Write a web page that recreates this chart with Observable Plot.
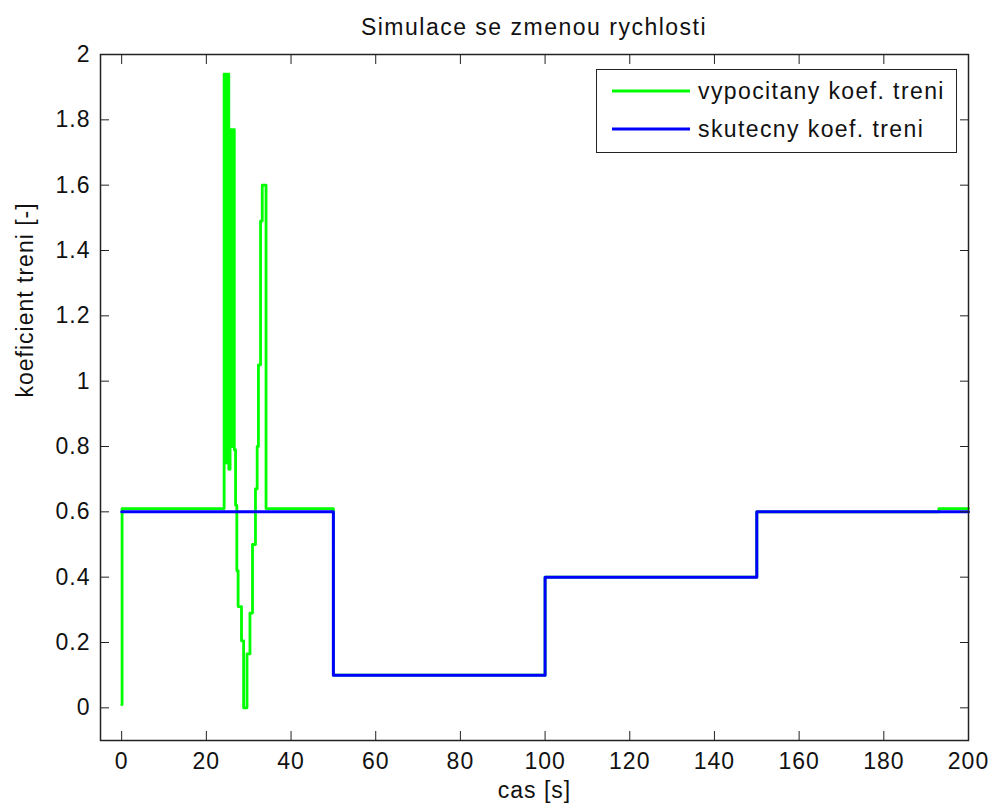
<!DOCTYPE html>
<html>
<head>
<meta charset="utf-8">
<script src="https://cdn.jsdelivr.net/npm/d3@7"></script>
<script src="https://cdn.jsdelivr.net/npm/@observablehq/plot@0.6"></script>
<style>
  html, body { margin: 0; padding: 0; background: #fff; }
  #wrap { position: relative; width: 993px; height: 812px; font-family: "Liberation Sans", Arial, sans-serif; color: #111; }
  #title { position: absolute; left: 100px; width: 868px; top: 13px; text-align: center; font-size: 23px; letter-spacing: 1.5px; line-height: 28px; }
  #legend { position: absolute; left: 596px; top: 69px; width: 359px; height: 82px; border: 1.5px solid #222; background: #fff; box-sizing: content-box; }
  .item { position: absolute; left: 0; height: 28px; display: flex; align-items: center; font-size: 23px; letter-spacing: 1.4px; }
  .item svg { margin-left: 15px; margin-right: 8px; }
</style>
</head>
<body>
<div id="wrap">
  <div id="chart"></div>
  <div id="title"></div>
  <div id="legend"></div>
</div>
<script>
// Simulation time [s] and friction coefficient – computed estimate (sampled, zero-order hold)
const calcTime  = [0, 0.1, 24.2, 24.6, 24.9, 25.3, 25.6, 26.0, 26.3, 26.6, 26.9, 27.2, 27.5, 28.3, 28.8, 29.6, 30.3, 30.9, 31.6, 32.0, 32.3, 32.8, 33.2, 34.1, 50, 100, 150, 193, 200];
const calcCoef  = [0.01, 0.61, 1.94, 0.75, 1.94, 0.73, 1.77, 0.80, 1.77, 0.79, 0.62, 0.42, 0.31, 0.205, 0.0, 0.165, 0.29, 0.5, 0.67, 0.80, 1.05, 1.49, 1.60, 0.61, 0.1, 0.4, 0.6, 0.61, 0.61];

// Actual friction coefficient (piecewise constant)
const realTime  = [0, 50, 100, 150, 200];
const realCoef  = [0.6, 0.1, 0.4, 0.6, 0.6];

const xTicks = [0, 20, 40, 60, 80, 100, 120, 140, 160, 180, 200];
const yTicks = [0, 0.2, 0.4, 0.6, 0.8, 1, 1.2, 1.4, 1.6, 1.8, 2];

const titleText = "Simulace se zmenou rychlosti";
const xLabel = "cas [s]";
const yLabel = "koeficient treni [-]";
const seriesNames = ["vypocitany koef. treni", "skutecny koef. treni"];
const seriesColors = ["#00ff00", "#0000ff"];

const calc = calcTime.map((t, i) => ({t, v: calcCoef[i]}));
const real = realTime.map((t, i) => ({t, v: realCoef[i]}));

const fmt = d => String(+d.toFixed(1));
const axisColor = "#222";

const chart = Plot.plot({
  width: 993,
  height: 812,
  marginLeft: 100,
  marginRight: 25,
  marginTop: 54,
  marginBottom: 72,
  style: {fontFamily: "'Liberation Sans', Arial, sans-serif", fontSize: "23px", letterSpacing: "1px", color: "#111", background: "#fff"},
  x: {domain: [-5, 200]},
  y: {domain: [-0.1, 2]},
  marks: [
    Plot.line(calc, {x: "t", y: "v", curve: "step-after", stroke: seriesColors[0], strokeWidth: 2.8}),
    Plot.line(real, {x: "t", y: "v", curve: "step-after", stroke: seriesColors[1], strokeWidth: 3}),
    // inward ticks on all four sides
    Plot.axisX(xTicks, {anchor: "bottom", tickSize: -9, tickFormat: () => "", label: null, stroke: axisColor}),
    Plot.axisX(xTicks, {anchor: "top", tickSize: -9, tickFormat: () => "", label: null, stroke: axisColor}),
    Plot.axisY(yTicks, {anchor: "left", tickSize: -9, tickFormat: () => "", label: null, stroke: axisColor}),
    Plot.axisY(yTicks, {anchor: "right", tickSize: -9, tickFormat: () => "", label: null, stroke: axisColor}),
    // tick labels
    Plot.axisX(xTicks, {anchor: "bottom", tickSize: 0, tickPadding: 12, tickFormat: fmt, label: null}),
    Plot.axisY(yTicks, {anchor: "left", tickSize: 0, tickPadding: 10, tickFormat: fmt, label: null}),
    Plot.frame({stroke: axisColor, strokeWidth: 1.5}),
    Plot.text([xLabel], {frameAnchor: "bottom", dy: 57, fontSize: 23}),
    Plot.text([yLabel], {frameAnchor: "left", dx: -75, rotate: -90, fontSize: 23})
  ]
});
document.getElementById("chart").appendChild(chart);
document.getElementById("title").textContent = titleText;

const legend = document.getElementById("legend");
seriesNames.forEach((name, i) => {
  const item = document.createElement("div");
  item.className = "item";
  item.style.top = (7 + i * 38) + "px";
  item.innerHTML = `<svg width="78" height="6"><line x1="0" x2="78" y1="3" y2="3" stroke="${seriesColors[i]}" stroke-width="3"/></svg><span>${name}</span>`;
  legend.appendChild(item);
});
</script>
</body>
</html>
